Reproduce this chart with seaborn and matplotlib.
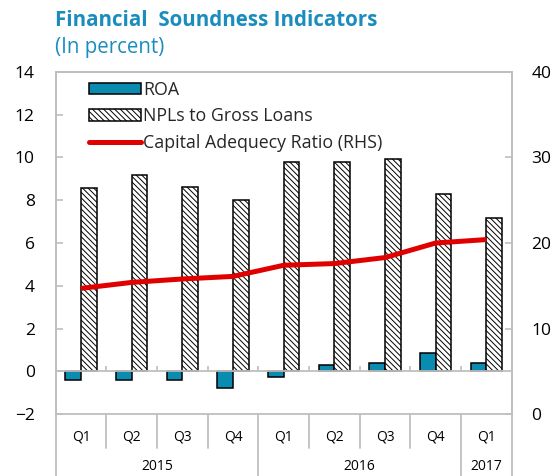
import numpy as np
import pandas as pd
import matplotlib
matplotlib.use("Agg")
import matplotlib.pyplot as plt
import matplotlib.transforms as mtransforms
from matplotlib.patches import Patch
from matplotlib.lines import Line2D
import seaborn as sns

# ---------------- data ----------------
periods = ["2015Q1", "2015Q2", "2015Q3", "2015Q4",
           "2016Q1", "2016Q2", "2016Q3", "2016Q4", "2017Q1"]
quarters = ["Q1", "Q2", "Q3", "Q4", "Q1", "Q2", "Q3", "Q4", "Q1"]
years = ["2015", "2016", "2017"]
year_counts = [4, 4, 1]
roa = [-0.40, -0.40, -0.40, -0.78, -0.25, 0.30, 0.38, 0.85, 0.38]
npl = [8.56, 9.18, 8.63, 8.03, 9.77, 9.77, 9.93, 8.31, 7.16]
car = [14.7, 15.4, 15.8, 16.1, 17.4, 17.6, 18.3, 20.0, 20.4]
series_names = ["ROA", "NPLs to Gross Loans"]
line_name = "Capital Adequecy Ratio (RHS)"
left_ticks = [-2, 0, 2, 4, 6, 8, 10, 12, 14]
right_ticks = [0, 10, 20, 30, 40]

# ---------------- style ----------------
sns.set_theme(style="white")
plt.rcParams["font.family"] = ["Open Sans", "DejaVu Sans"]
plt.rcParams["hatch.linewidth"] = 0.7
plt.rcParams["hatch.color"] = "black"

BLUE = "#0A8BB0"
TITLE = "#1A8DBE"
RED = "#E00000"
GRAY = "#BFBFBF"
HATCH = "\\\\\\\\\\\\"

df = pd.DataFrame({
    "period": periods * 2,
    "value": roa + npl,
    "series": [series_names[0]] * len(periods) + [series_names[1]] * len(periods),
})

fig = plt.figure(figsize=(5.57, 4.76), dpi=100)
ax = fig.add_axes([0.1, 0.1296, 0.8187, 0.7198])

sns.barplot(data=df, x="period", y="value", hue="series", order=periods,
            hue_order=series_names, palette=[BLUE, "white"], width=0.62,
            gap=0, edgecolor="black", linewidth=1.1, saturation=1,
            legend=False, ax=ax)

# hatch the NPL bars
n = len(periods)
for i, p in enumerate(ax.patches):
    if i >= n:
        p.set_hatch(HATCH)
        p.set_facecolor("white")

ax2 = ax.twinx()
xpos = np.arange(len(periods))
sns.lineplot(x=xpos, y=car, ax=ax2, color=RED, linewidth=3.6,
             solid_capstyle="butt", solid_joinstyle="round")

ax.set_xlim(-0.5, n - 0.5)
ax.set_ylim(-2, 14)
ax2.set_ylim(0, 40)
ax.set_yticks(left_ticks)
ax2.set_yticks(right_ticks)
ax.set_ylabel("")
ax2.set_ylabel("")
ax.set_xlabel("")

for a in (ax, ax2):
    for s in a.spines.values():
        s.set_color(GRAY)
        s.set_linewidth(1.3)
    a.spines["bottom"].set_visible(False)

ax.tick_params(axis="y", direction="in", length=5, width=1.2, color=GRAY,
               labelsize=12.5, pad=15, labelcolor="black", left=True)
ax2.tick_params(axis="y", direction="in", length=5, width=1.2, color=GRAY,
                labelsize=12.5, pad=14, labelcolor="black", right=True)

# category axis
ax.set_xticks(xpos)
ax.set_xticklabels(quarters, fontsize=10)
ax.tick_params(axis="x", length=0, pad=11, labelcolor="black")

ax.axhline(0, color=GRAY, linewidth=1.3, zorder=1)
ax.axhline(-2, color=GRAY, linewidth=1.3, zorder=1, clip_on=False)
ax.vlines(np.arange(n - 1) + 0.5, 0, 0.25, color=GRAY, linewidth=1.2, zorder=1)

trans = mtransforms.blended_transform_factory(ax.transData, ax.transAxes)
bounds = np.cumsum([0] + year_counts) - 0.5
for b in np.arange(n + 1) - 0.5:
    full = b in bounds
    ax.plot([b, b], [0, -0.2 if full else -0.098], transform=trans,
            color=GRAY, linewidth=1.3, clip_on=False)
for k, y in enumerate(years):
    c = (bounds[k] + bounds[k + 1]) / 2
    ax.text(c, -0.151, y, transform=trans, ha="center", va="center",
            fontsize=10, color="black")

# titles
fig.text(55 / 557, 1 - 20 / 476, "Financial  Soundness Indicators",
         fontsize=14.8, fontweight="bold", color=TITLE, ha="left", va="center")
fig.text(55 / 557, 1 - 48 / 476, "(In percent)",
         fontsize=14.8, color=TITLE, ha="left", va="center")

# legend
handles = [
    Patch(facecolor=BLUE, edgecolor="black", linewidth=1.1),
    Patch(facecolor="white", edgecolor="black", linewidth=1.1, hatch=HATCH),
    Line2D([0], [0], color=RED, linewidth=3.6),
]
leg = ax2.legend(handles, series_names + [line_name], loc="upper left",
                 bbox_to_anchor=(89 / 557, 1 - 81 / 476),
                 bbox_transform=fig.transFigure, frameon=False, fontsize=12.8,
                 handlelength=2.9, handleheight=0.6, handletextpad=0.15,
                 labelspacing=0.47, borderpad=0, borderaxespad=0)

fig.savefig("out.png", dpi=100)
